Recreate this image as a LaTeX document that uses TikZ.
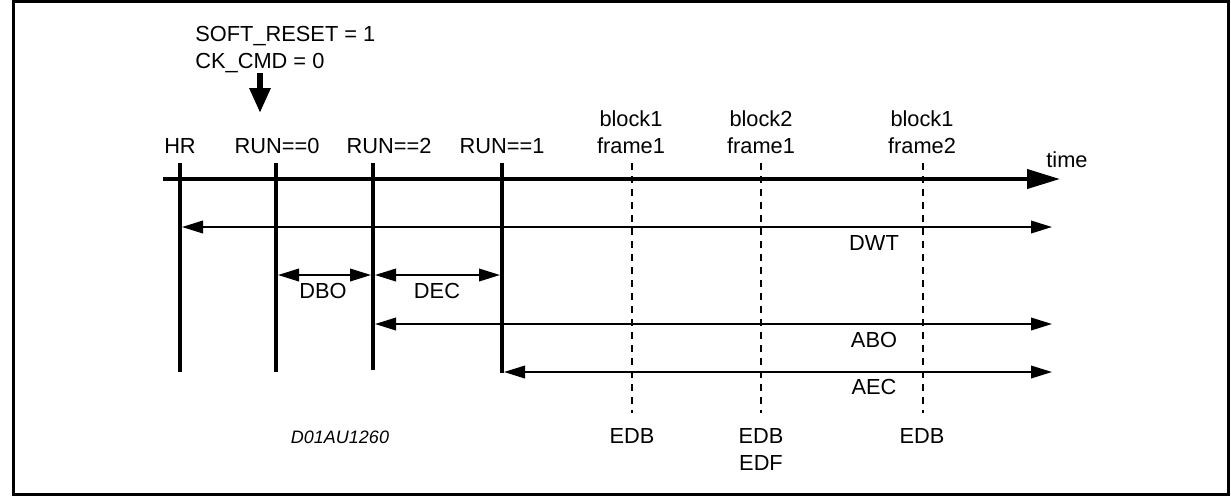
\documentclass[tikz,border=0pt]{standalone}
\usepackage{fontspec}
\setmainfont{Liberation Sans}
\usetikzlibrary{arrows.meta}
\begin{document}
\begin{tikzpicture}[x=0.5pt,y=-0.5pt,
  lbl/.style={font=\fontsize{10.9}{13}\selectfont, inner sep=0pt, anchor=base},
  code/.style={font=\fontsize{9}{10}\selectfont\itshape, inner sep=0pt, anchor=base},
  timeaxis/.style={line width=2pt, -{Triangle[length=16.5pt,width=9.5pt]}},
  evline/.style={line width=2.2pt},
  dline/.style={line width=1.1pt, dash pattern=on 3.5pt off 3pt},
  span/.style={line width=0.9pt, {Triangle[length=10.5pt,width=6.3pt]}-{Triangle[length=10.5pt,width=6.3pt]}},
  bigarrow/.style={line width=3pt, -{Triangle[length=12.5pt,width=10pt]}},
  frame/.style={line width=1.5pt}
]
\useasboundingbox (0,0) rectangle (1231,495);
\draw[frame] (13,1.5) rectangle (1228.5,494);

% command text and arrow
\node[lbl, anchor=base west] (soft) at (195,41) {SOFT\_RESET = 1};
\node[lbl, anchor=base west] (ck) at (195,68) {CK\_CMD = 0};
\coordinate (dwnA) at (260,73);
\coordinate (dwnB) at (260,113);
\draw[bigarrow] (dwnA) -- (dwnB);

% event labels
\node[lbl] (hr) at (180,153) {HR};
\node[lbl] (run0) at (277,153) {RUN==0};
\node[lbl] (run2) at (389,153) {RUN==2};
\node[lbl] (run1) at (502,153) {RUN==1};
\node[lbl] (b1a) at (631,126) {block1};
\node[lbl] (b1b) at (631,153) {frame1};
\node[lbl] (b2a) at (761,126) {block2};
\node[lbl] (b2b) at (761,153) {frame1};
\node[lbl] (b3a) at (922,126) {block1};
\node[lbl] (b3b) at (922,153) {frame2};
\node[lbl] (timelbl) at (1067,167) {time};

% time axis
\coordinate (t0) at (163,179);
\coordinate (t1) at (1060,179);
\draw[timeaxis] (t0) -- (t1);

% event lines
\coordinate (hrT) at (180,163);  \coordinate (hrB) at (180,372);
\coordinate (r0T) at (276,163);  \coordinate (r0B) at (276,372);
\coordinate (r2T) at (373,163);  \coordinate (r2B) at (373,370);
\coordinate (r1T) at (502,163);  \coordinate (r1B) at (502,373);
\draw[evline] (hrT) -- (hrB);
\draw[evline] (r0T) -- (r0B);
\draw[evline] (r2T) -- (r2B);
\draw[evline] (r1T) -- (r1B);

% dashed frame lines
\coordinate (d1T) at (632,163); \coordinate (d1B) at (632,413);
\coordinate (d2T) at (761,163); \coordinate (d2B) at (761,413);
\coordinate (d3T) at (923,163); \coordinate (d3B) at (923,413);
\draw[dline] (d1T) -- (d1B);
\draw[dline] (d2T) -- (d2B);
\draw[dline] (d3T) -- (d3B);

% spans
\coordinate (dwtL) at (182,227); \coordinate (dwtR) at (1052,227);
\draw[span] (dwtL) -- (dwtR);
\node[lbl] (dwt) at (874,250) {DWT};

\coordinate (dboL) at (278,275); \coordinate (dboR) at (371,275);
\draw[span] (dboL) -- (dboR);
\node[lbl] (dbo) at (323,298) {DBO};

\coordinate (decL) at (375,275); \coordinate (decR) at (500,275);
\draw[span] (decL) -- (decR);
\node[lbl] (dec) at (437,298) {DEC};

\coordinate (aboL) at (375,324); \coordinate (aboR) at (1052,324);
\draw[span] (aboL) -- (aboR);
\node[lbl] (abo) at (874,347) {ABO};

\coordinate (aecL) at (504,372); \coordinate (aecR) at (1052,372);
\draw[span] (aecL) -- (aecR);
\node[lbl] (aec) at (874,394) {AEC};

% bottom labels
\node[lbl] (edb1) at (632,443) {EDB};
\node[lbl] (edb2) at (761,443) {EDB};
\node[lbl] (edf) at (761,470) {EDF};
\node[lbl] (edb3) at (922,443) {EDB};
\node[code] (id) at (340,443) {D01AU1260};
\end{tikzpicture}
\end{document}
